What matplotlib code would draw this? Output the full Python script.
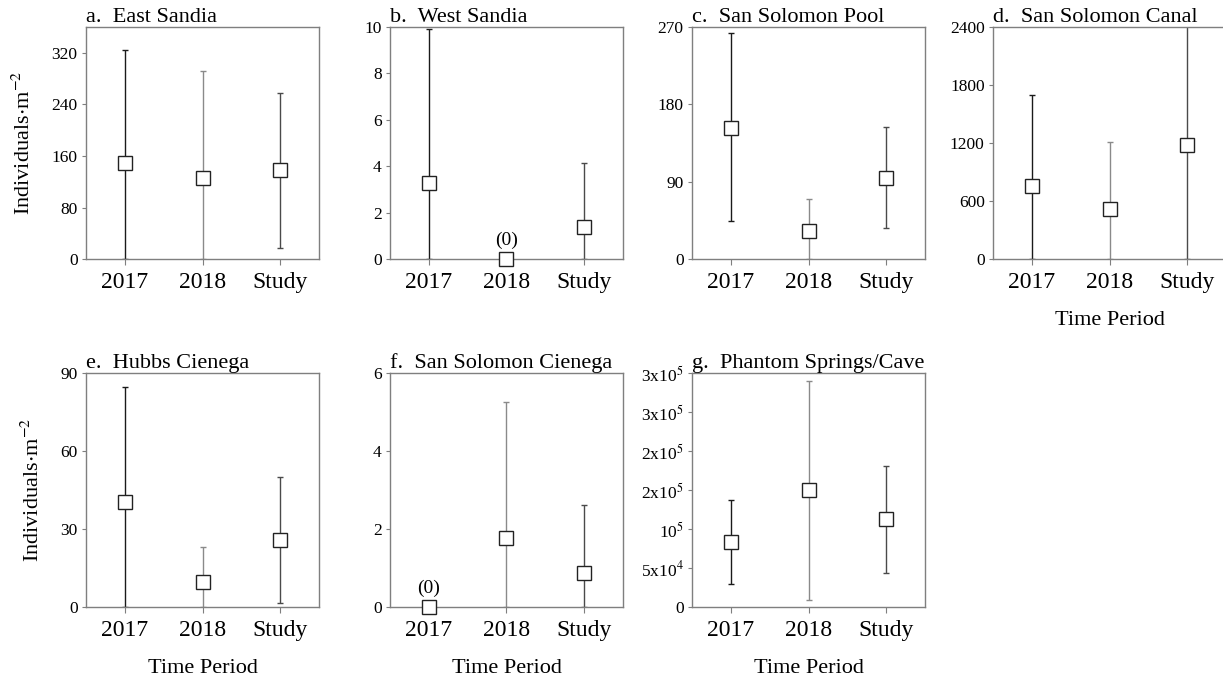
import matplotlib
matplotlib.use("Agg")
import matplotlib.pyplot as plt
from matplotlib.ticker import FixedLocator, FixedFormatter

plt.rcParams['font.family'] = ['Liberation Serif', 'DejaVu Serif']
plt.rcParams['mathtext.fontset'] = 'stix'

categories = ["2017", "2018", "Study"]

titles = ["a.  East Sandia", "b.  West Sandia", "c.  San Solomon Pool", "d.  San Solomon Canal",
          "e.  Hubbs Cienega", "f.  San Solomon Cienega", "g.  Phantom Springs/Cave"]

means_a = [150, 126, 138]
upper_a = [325, 292, 258]
lower_a = [0, 0, 17]

means_b = [3.3, 0.0, 1.4]
upper_b = [9.9, 0.0, 4.15]
lower_b = [0, 0, 0]

means_c = [153, 33, 95]
upper_c = [263, 70, 154]
lower_c = [45, 0, 36]

means_d = [758, 517, 1180]
upper_d = [1700, 1207, 2450]
lower_d = [0, 0, 0]

means_e = [40.5, 9.9, 26]
upper_e = [84.6, 23.2, 50.2]
lower_e = [0, 0, 1.8]

means_f = [0.0, 1.78, 0.87]
upper_f = [0.0, 5.26, 2.62]
lower_f = [0, 0, 0]

means_g = [83500, 150000, 113000]
upper_g = [137000, 290000, 181000]
lower_g = [30000, 10000, 44000]

yticks_a = [0, 80, 160, 240, 320]
yticks_b = [0, 2, 4, 6, 8, 10]
yticks_c = [0, 90, 180, 270]
yticks_d = [0, 600, 1200, 1800, 2400]
yticks_e = [0, 30, 60, 90]
yticks_f = [0, 2, 4, 6]
yticks_g = [0, 50000, 100000, 150000, 200000, 250000, 300000]
yticklabels_g = ["0", r"5x10$^{4}$", r"10$^{5}$", r"2x10$^{5}$", r"2x10$^{5}$", r"3x10$^{5}$", r"3x10$^{5}$"]

ylims = [360, 10, 270, 2400, 90, 6, 300000]

panels = [
    (means_a, upper_a, lower_a, yticks_a, None),
    (means_b, upper_b, lower_b, yticks_b, None),
    (means_c, upper_c, lower_c, yticks_c, None),
    (means_d, upper_d, lower_d, yticks_d, None),
    (means_e, upper_e, lower_e, yticks_e, None),
    (means_f, upper_f, lower_f, yticks_f, None),
    (means_g, upper_g, lower_g, yticks_g, yticklabels_g),
]
zero_notes = {1: 1, 5: 0}  # panel index -> category index with "(0)"

W, H = 1223, 682
fig = plt.figure(figsize=(W / 100, H / 100), dpi=100)

lefts = [86, 390, 692, 993]
width = 233
rows = [(27, 259.3), (373.3, 607.3)]
err_colors = ["#1a1a1a", "#8a8a8a", "#4a4a4a"]
spine_col = "#7f7f7f"

for i, (m, up, lo, yt, ytl) in enumerate(panels):
    r, c = divmod(i, 4)
    top, bot = rows[r]
    ax = fig.add_axes([lefts[c] / W, 1 - bot / H, width / W, (bot - top) / H])
    x = list(range(1, len(categories) + 1))
    for j in range(len(categories)):
        ax.errorbar(x[j], m[j], yerr=[[m[j] - lo[j]], [up[j] - m[j]]], fmt='none',
                    ecolor=err_colors[j], elinewidth=1.0, capsize=2.5, capthick=1.0, zorder=2)
        ax.plot(x[j], m[j], marker='s', markersize=9.5, markerfacecolor='white',
                markeredgecolor='#222222', markeredgewidth=1.0, linestyle='none', zorder=3,
                clip_on=False)
    ax.set_xlim(0.5, 3.5)
    ax.set_ylim(0, ylims[i])
    ax.set_xticks(x)
    ax.set_xticklabels(categories, fontsize=17)
    ax.yaxis.set_major_locator(FixedLocator(yt))
    if ytl is not None:
        ax.yaxis.set_major_formatter(FixedFormatter(ytl))
    for lab in ax.get_yticklabels():
        lab.set_fontsize(12.5)
    ax.tick_params(axis='x', length=4, width=0.8, color=spine_col, pad=5)
    ax.tick_params(axis='y', length=3, width=0.8, color=spine_col, pad=3)
    for s in ax.spines.values():
        s.set_color(spine_col)
        s.set_linewidth(1.0)
    ax.set_title(titles[i], loc='left', fontsize=16, pad=2)
    if i in zero_notes:
        k = zero_notes[i]
        ax.annotate("(0)", (x[k], 0), xytext=(0, 14), textcoords='offset points',
                    ha='center', va='center', fontsize=14)
    if c == 0:
        ax.set_ylabel(r"Individuals$\cdot$m$^{-2}$", fontsize=16, labelpad=12)
    if i >= 3:
        ax.set_xlabel("Time Period", fontsize=16, labelpad=13)

fig.savefig("out.png", dpi=100)
